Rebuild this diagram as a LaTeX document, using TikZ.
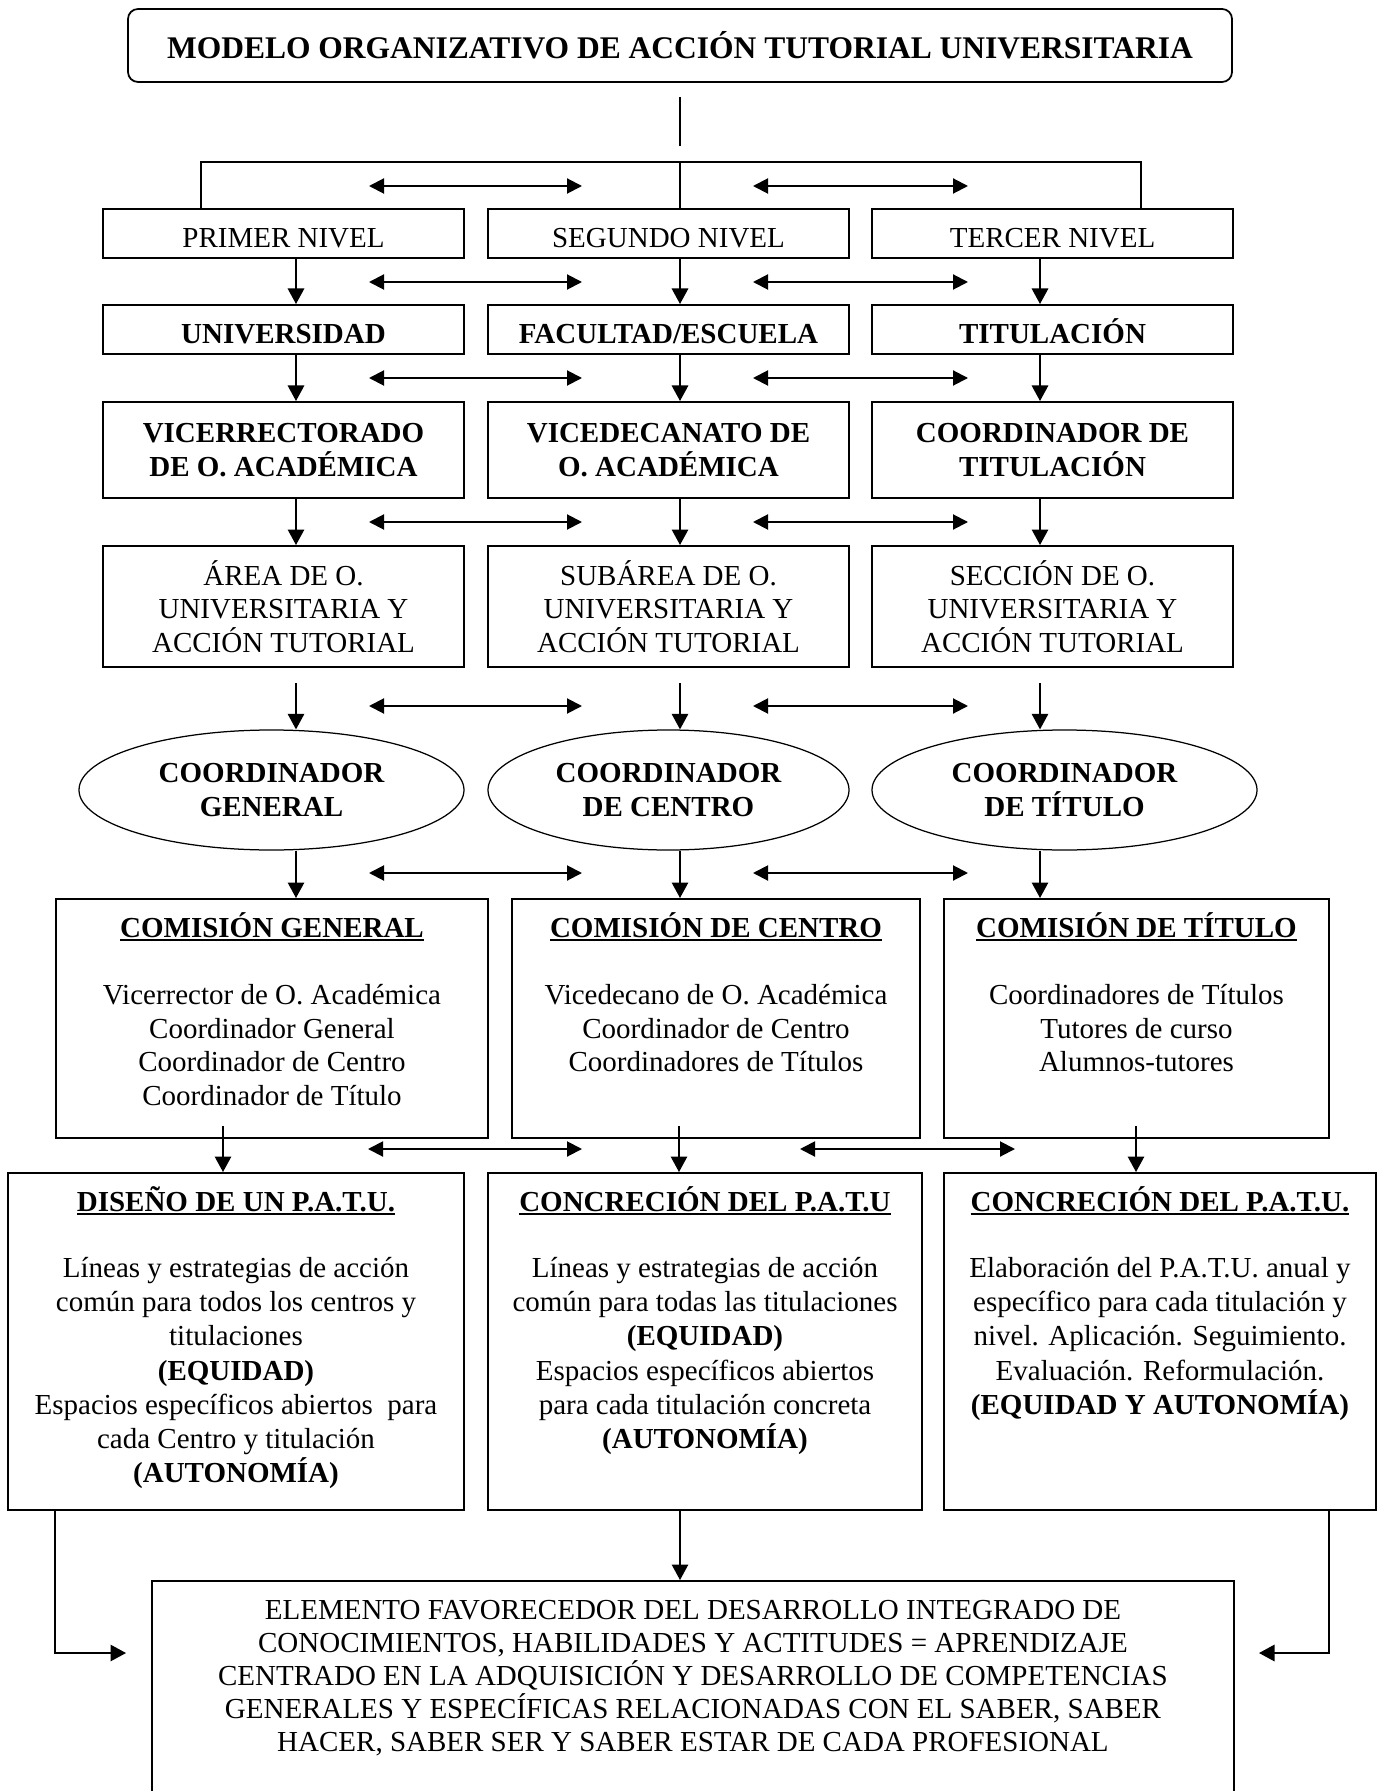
\documentclass[tikz,border=0pt]{standalone}
\usepackage{fontspec}
\setmainfont{Liberation Serif}
\usetikzlibrary{arrows.meta,shapes.geometric,calc}

\newdimen\unitpx
\unitpx=0.4pt
\newcommand{\topbox}[3]{\parbox[c][#2\unitpx][t]{#1\unitpx}{\centering\rule{0pt}{38\unitpx}#3}}
\newcommand{\hd}[1]{\leavevmode\setbox0\hbox{\textbf{#1}}\rlap{\rule[-4\unitpx]{\wd0}{2\unitpx}}\box0}

\begin{document}
\begin{tikzpicture}[x=0.4pt,y=-0.4pt,
	bx/.style={draw, line width=0.8pt, inner sep=0pt, align=center, font=\fontsize{11.6}{13.4}\selectfont},
	lv/.style={bx, minimum width=361\unitpx},
	lvb/.style={lv, font=\fontsize{11.6}{13.4}\selectfont\bfseries},
	one/.style={minimum height=49\unitpx, text height=11.3pt, text depth=0pt},
	tb/.style={draw, line width=0.8pt, inner sep=0pt, anchor=north west},
	ell/.style={ellipse, draw, line width=0.5pt, inner sep=0pt, minimum height=120\unitpx, align=center, font=\fontsize{11.6}{13.4}\selectfont\bfseries},
	ln/.style={line width=0.55pt},
	arr/.style={ln, -{Triangle[length=6.2pt,width=6.6pt]}},
	dbl/.style={line width=0.8pt, {Triangle[length=6pt,width=6pt]}-{Triangle[length=6pt,width=6pt]}}]

		\useasboundingbox (0,0) rectangle (1378,1791);

		\node[draw, line width=0.7pt, rounded corners=4pt, minimum width=1104\unitpx, minimum height=73\unitpx,
			font=\fontsize{12.6}{15}\selectfont\bfseries] (title) at (680, 45.5) {MODELO ORGANIZATIVO DE ACCIÓN TUTORIAL UNIVERSITARIA};

		\node[lv, one] (n1) at (283.5, 233.5) {PRIMER NIVEL};
		\node[lv, one] (n2) at (668.5, 233.5) {SEGUNDO NIVEL};
		\node[lv, one] (n3) at (1052.5, 233.5) {TERCER NIVEL};

		\node[lvb, one] (u1) at (283.5, 329.5) {UNIVERSIDAD};
		\node[lvb, one] (u2) at (668.5, 329.5) {FACULTAD/ESCUELA};
		\node[lvb, one] (u3) at (1052.5, 329.5) {TITULACIÓN};

		\node[lvb, minimum height=96\unitpx] (v1) at (283.5, 450) {VICERRECTORADO\\DE O. ACADÉMICA};
		\node[lvb, minimum height=96\unitpx] (v2) at (668.5, 450) {VICEDECANATO DE\\O. ACADÉMICA};
		\node[lvb, minimum height=96\unitpx] (v3) at (1052.5, 450) {COORDINADOR DE\\TITULACIÓN};

		\node[lv, minimum height=121\unitpx] (s1) at (283.5, 606.5) {ÁREA DE O.\\UNIVERSITARIA Y\\ACCIÓN TUTORIAL};
		\node[lv, minimum height=121\unitpx] (s2) at (668.5, 606.5) {SUBÁREA DE O.\\UNIVERSITARIA Y\\ACCIÓN TUTORIAL};
		\node[lv, minimum height=121\unitpx] (s3) at (1052.5, 606.5) {SECCIÓN DE O.\\UNIVERSITARIA Y\\ACCIÓN TUTORIAL};

		\node[ell, minimum width=385\unitpx] (e1) at (271.5, 790) {COORDINADOR\\GENERAL};
		\node[ell, minimum width=361\unitpx] (e2) at (668.5, 790) {COORDINADOR\\DE CENTRO};
		\node[ell, minimum width=385\unitpx] (e3) at (1064.5, 790) {COORDINADOR\\DE TÍTULO};

		% comisiones
		\node[tb, font=\fontsize{11.6}{13.4}\selectfont] (k1) at (55, 898) {\topbox{432}{239}{\hd{COMISIÓN GENERAL}\\[13.6pt]
			Vicerrector de O. Académica\\Coordinador General\\Coordinador de Centro\\Coordinador de Título}};
		\node[tb, font=\fontsize{11.6}{13.4}\selectfont] (k2) at (511, 898) {\topbox{408}{239}{\hd{COMISIÓN DE CENTRO}\\[13.6pt]
			Vicedecano de O. Académica\\Coordinador de Centro\\Coordinadores de Títulos}};
		\node[tb, font=\fontsize{11.6}{13.4}\selectfont] (k3) at (943, 898) {\topbox{385}{239}{\hd{COMISIÓN DE TÍTULO}\\[13.6pt]
			Coordinadores de Títulos\\Tutores de curso\\Alumnos-tutores}};

		% P.A.T.U.
		\node[tb, font=\fontsize{11.6}{13.65}\selectfont] (p1) at (7, 1172) {\topbox{456}{337}{\hd{DISEÑO DE UN P.A.T.U.}\\[13pt]
			Líneas y estrategias de acción\\común para todos los centros y\\titulaciones\\\textbf{(EQUIDAD)}\\
			Espacios específicos abiertos~ para\\cada Centro y titulación\\\textbf{(AUTONOMÍA)}}};
		\node[tb, font=\fontsize{11.6}{13.65}\selectfont] (p2) at (487, 1172) {\topbox{434}{337}{\hd{CONCRECIÓN DEL P.A.T.U}\\[13pt]
			Líneas y estrategias de acción\\común para todas las titulaciones\\\textbf{(EQUIDAD)}\\
			Espacios específicos abiertos\\para cada titulación concreta\\\textbf{(AUTONOMÍA)}}};
		\node[tb, font=\fontsize{11.6}{13.65}\selectfont] (p3) at (943, 1172) {\topbox{432}{337}{\hd{CONCRECIÓN DEL P.A.T.U.}\\[13pt]
			Elaboración del P.A.T.U. anual y\\específico para cada titulación y\\nivel. Aplicación. Seguimiento.\\
			Evaluación. Reformulación.\\\textbf{(EQUIDAD Y AUTONOMÍA)}}};

		\node[tb, font=\fontsize{11.6}{13.2}\selectfont] (fin) at (151, 1580) {\topbox{1082}{240}{%
			ELEMENTO FAVORECEDOR DEL DESARROLLO INTEGRADO DE\\
			CONOCIMIENTOS, HABILIDADES Y ACTITUDES = APRENDIZAJE\\
			CENTRADO EN LA ADQUISICIÓN Y DESARROLLO DE COMPETENCIAS\\
			GENERALES Y ESPECÍFICAS RELACIONADAS CON EL SABER, SABER\\
			HACER, SABER SER Y SABER ESTAR DE CADA PROFESIONAL}};

		\coordinate (t1) at (680, 97);
		\coordinate (t2) at (680, 146);
		\coordinate (b1) at (201, 162);
		\coordinate (b2) at (680, 162);
		\coordinate (b3) at (1141, 162);
		\coordinate (c1) at (296, 0);
		\coordinate (c2) at (680, 0);
		\coordinate (c3) at (1040, 0);
		\coordinate (d1) at (223, 0);
		\coordinate (d2) at (679, 0);
		\coordinate (d3) at (1136, 0);
		\coordinate (bl) at (55, 1653);
		\coordinate (br) at (1329, 1653);
		\coordinate (fl) at (126, 1653);
		\coordinate (fr) at (1259, 1653);

		\draw[ln] (t1) -- (t2);
		\draw[line width=0.7pt] (b1 |- n1.north) -- (b1) -- (b3) -- (b3 |- n3.north);
		\draw[line width=0.7pt] (b2) -- (b2 |- n2.north);

		\foreach \a/\b in {n/u,u/v,v/s}
			\foreach \i in {1,2,3}
				\draw[arr] (c\i |- \a\i.south) -- (c\i |- \b\i.north);
		\foreach \i in {1,2,3} {
			\draw[arr] ($(c\i |- s\i.south)+(0,15)$) -- (c\i |- e\i.north);
			\draw[arr] (c\i |- e\i.south) -- (c\i |- k\i.north);
			\draw[arr] ($(d\i |- k\i.south)+(0,-13)$) -- (d\i |- p\i.north);
		}
		\draw[arr] (bl |- p1.south) -- (bl) -- (fl);
		\draw[arr] (br |- p3.south) -- (br) -- (fr);
		\draw[arr] (c2 |- p2.south) -- (c2 |- fin.north);

		% flechas dobles entre columnas
		\foreach \r/\y/\xa/\xb/\xc/\xd in {0/186/369/582/753/968, 1/282/369/582/753/968, 2/378/369/582/753/968,
				3/522/369/582/753/968, 4/706/369/582/753/968, 5/873/369/582/753/968, 6/1149/368/582/800/1015} {
			\coordinate (ha\r) at (\xa, \y);
			\coordinate (hb\r) at (\xb, \y);
			\coordinate (hc\r) at (\xc, \y);
			\coordinate (hd\r) at (\xd, \y);
			\draw[dbl] (ha\r) -- (hb\r);
			\draw[dbl] (hc\r) -- (hd\r);
		}
\end{tikzpicture}
\end{document}
